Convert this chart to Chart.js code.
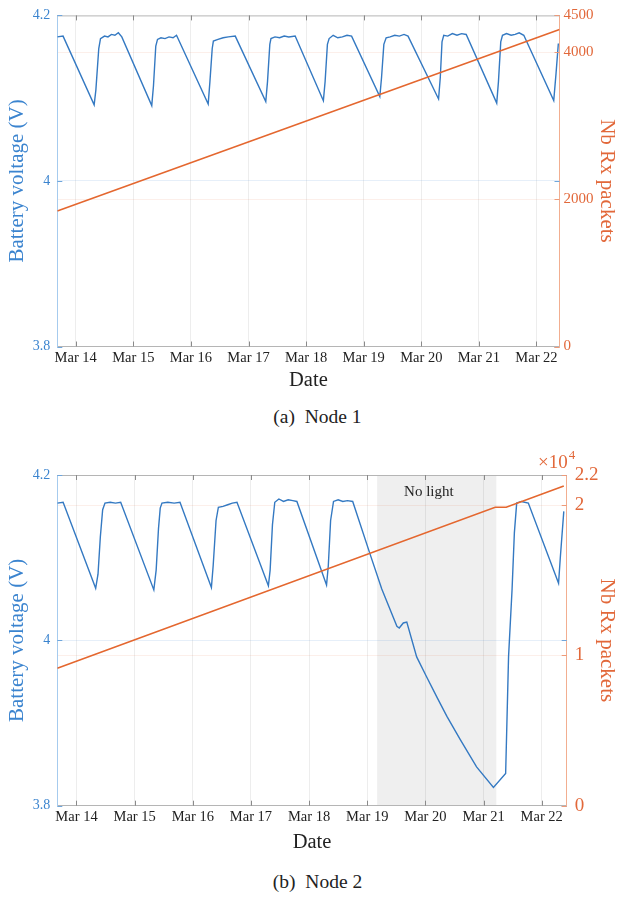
<!DOCTYPE html>
<html><head><meta charset="utf-8">
<script src="https://cdn.jsdelivr.net/npm/chart.js@4.4.0/dist/chart.umd.min.js"></script>
<style>
html,body{margin:0;padding:0;background:#fff;}
body{width:619px;height:898px;position:relative;overflow:hidden;font-family:"Liberation Serif",serif;}
.box{position:absolute;left:0;width:619px;}
.cap{position:absolute;left:8px;width:619px;text-align:center;font-size:19.5px;color:#222;line-height:22px;}
</style></head><body>
<div class="box" style="top:0;height:400px"><canvas id="c1" width="619" height="400"></canvas></div>
<div class="cap" style="top:406px">(a)&nbsp; Node 1</div>
<div class="box" style="top:440px;height:420px"><canvas id="c2" width="619" height="420"></canvas></div>
<div class="cap" style="top:871px">(b)&nbsp; Node 2</div>
<script>
// ---- data (x = days since Mar 14 00:00) ----
const dayTicks = [0,1,2,3,4,5,6,7,8];
const dayLabels = ['Mar 14','Mar 15','Mar 16','Mar 17','Mar 18','Mar 19','Mar 20','Mar 21','Mar 22'];
const voltTicks = [3.8, 4, 4.2];
const voltTickLabels = ['3.8','4','4.2'];
const rx1Ticks = [0, 2000, 4000, 4500];
const rx1TickLabels = ['0','2000','4000','4500'];
const rx2Ticks = [0, 10000, 20000, 22000];
const rx2TickLabels = ['0','1','2','2.2'];

// Node 1 battery voltage
const v1Days = [-0.32,-0.22,
  0.32,0.35,0.40,0.43,0.50,0.56,0.62,0.68,0.74,0.80,
  1.32,1.35,1.39,1.42,1.48,1.55,1.62,1.69,1.75,
  2.30,2.33,2.37,2.39,2.47,2.56,2.65,2.77,
  3.30,3.33,3.37,3.39,3.46,3.54,3.62,3.70,3.81,
  4.30,4.33,4.37,4.40,4.47,4.55,4.63,4.71,4.79,
  5.28,5.31,5.35,5.39,5.46,5.54,5.62,5.70,5.77,
  6.30,6.33,6.36,6.39,6.46,6.54,6.62,6.70,6.78,
  7.31,7.34,7.38,7.41,7.48,7.56,7.63,7.70,7.78,
  8.30,8.34,8.38];
const v1Volts = [4.174,4.175,
  4.092,4.110,4.160,4.172,4.175,4.174,4.177,4.176,4.179,4.174,
  4.091,4.115,4.163,4.171,4.173,4.172,4.174,4.173,4.176,
  4.093,4.120,4.160,4.169,4.171,4.173,4.174,4.175,
  4.096,4.120,4.165,4.172,4.174,4.173,4.175,4.174,4.175,
  4.097,4.120,4.165,4.172,4.176,4.173,4.174,4.176,4.175,
  4.102,4.125,4.165,4.173,4.174,4.176,4.175,4.177,4.175,
  4.099,4.125,4.168,4.176,4.175,4.178,4.176,4.178,4.177,
  4.094,4.120,4.168,4.176,4.178,4.176,4.177,4.179,4.176,
  4.097,4.130,4.166];
// Node 1 received packets
const rx1Days = [-0.32, 8.40];
const rx1Count = [1840, 4310];

// Node 2 battery voltage
const v2Days = [-0.33,-0.23,
  0.33,0.37,0.41,0.45,0.49,0.58,0.67,0.76,
  1.33,1.37,1.41,1.44,1.47,1.57,1.68,1.78,
  2.32,2.35,2.40,2.44,2.52,2.60,2.68,2.76,
  3.30,3.33,3.37,3.41,3.48,3.56,3.64,3.72,3.79,
  4.30,4.33,4.37,4.42,4.50,4.58,4.66,4.75,
  5.05,5.25,5.51,5.55,5.62,5.68,5.85,6.02,6.20,6.37,6.60,6.88,7.17,7.38,
  7.43,7.49,7.53,7.57,7.65,7.77,8.29,8.32,8.38];
const v2Volts = [4.166,4.167,
  4.063,4.080,4.125,4.158,4.166,4.167,4.166,4.167,
  4.061,4.085,4.135,4.160,4.166,4.167,4.166,4.167,
  4.064,4.090,4.145,4.161,4.162,4.164,4.166,4.167,
  4.066,4.085,4.140,4.167,4.171,4.168,4.170,4.169,4.168,
  4.067,4.090,4.145,4.168,4.170,4.168,4.169,4.168,
  4.104,4.062,4.017,4.015,4.021,4.022,3.980,3.956,3.931,3.908,3.880,3.847,3.822,3.839,
  3.980,4.061,4.130,4.166,4.168,4.166,4.069,4.100,4.156];
// Node 2 received packets
const rx2Days = [-0.33, 7.20, 7.39, 8.38];
const rx2Count = [9150, 19850, 19850, 21270];
// "No light" period
const noLight = [5.17, 7.22];

// ---- styling ----
const SERIF = '"Liberation Serif", "DejaVu Serif", serif';
const BLUE = '#3479c2';
const BLUE_TXT = '#3b84cf';
const ORANGE = '#e4672f';
const ORANGE_TXT = '#e2683a';

const pts = (xs, ys) => xs.map((x, i) => ({x, y: ys[i]}));

const deco = {
  id: 'deco',
  beforeDraw(chart, args, o) {
    const {ctx, chartArea: a, scales: {x}} = chart;
    if (o.shade) {
      const x0 = x.getPixelForValue(o.shade[0]), x1 = x.getPixelForValue(o.shade[1]);
      ctx.save(); ctx.fillStyle = '#efefef';
      ctx.fillRect(x0, a.top, x1 - x0, a.bottom - a.top); ctx.restore();
    }
  },
  afterDraw(chart, args, o) {
    const {ctx, chartArea: a, scales: {x, y, y1}} = chart;
    ctx.save();
    ctx.lineWidth = 1;
    ctx.strokeStyle = '#b5b5b5';
    ctx.beginPath(); ctx.moveTo(a.left, a.top + 0.5); ctx.lineTo(a.right, a.top + 0.5); ctx.stroke();
    ctx.strokeStyle = '#8a8a8a';
    ctx.beginPath();
    dayTicks.forEach(v => {
      const px = Math.round(x.getPixelForValue(v)) + 0.5;
      ctx.moveTo(px, a.bottom); ctx.lineTo(px, a.bottom - 5);
      ctx.moveTo(px, a.top); ctx.lineTo(px, a.top + 5);
    });
    ctx.stroke();
    ctx.strokeStyle = '#6fa6dc';
    ctx.beginPath();
    voltTicks.forEach(v => {
      const py = Math.round(y.getPixelForValue(v)) + 0.5;
      ctx.moveTo(a.left, py); ctx.lineTo(a.left + 5, py);
      ctx.moveTo(a.right, py); ctx.lineTo(a.right - 5, py);
    });
    ctx.stroke();
    ctx.strokeStyle = '#ee9a78';
    ctx.beginPath();
    o.rxTicks.forEach(v => {
      const py = Math.round(y1.getPixelForValue(v)) + 0.5;
      ctx.moveTo(a.right, py); ctx.lineTo(a.right - 5, py);
    });
    ctx.stroke();
    if (o.shade) {
      ctx.fillStyle = '#222';
      ctx.font = '15px ' + SERIF;
      ctx.textAlign = 'center'; ctx.textBaseline = 'middle';
      ctx.fillText('No light', x.getPixelForValue(o.labelX), a.top + 17);
    }
    if (o.exp) {
      ctx.fillStyle = ORANGE_TXT;
      ctx.textBaseline = 'alphabetic';
      ctx.textAlign = 'right';
      ctx.font = '19px ' + SERIF;
      ctx.fillText('\u00d710', a.right + 1, a.top - 7);
      ctx.textAlign = 'left';
      ctx.font = '13px ' + SERIF;
      ctx.fillText('4', a.right + 2, a.top - 16);
    }
    ctx.restore();
  }
};

function makeChart(id, cfg) {
  return new Chart(document.getElementById(id), {
    type: 'line',
    data: {
      datasets: [
        {data: pts(cfg.vDays, cfg.vVolts), yAxisID: 'y', borderColor: BLUE, borderWidth: 1.4, pointRadius: 0, tension: 0, order: 2},
        {data: pts(cfg.rxDays, cfg.rxCount), yAxisID: 'y1', borderColor: ORANGE, borderWidth: 1.6, pointRadius: 0, tension: 0, order: 1}
      ]
    },
    options: {
      responsive: false, animation: false, devicePixelRatio: 1,
      layout: {padding: {top: cfg.padTop, left: 0, right: 0, bottom: 0}},
      plugins: {legend: {display: false}, tooltip: {enabled: false},
        deco: {shade: cfg.shade, labelX: cfg.labelX, exp: cfg.exp, rxTicks: cfg.rxTicks}},
      scales: {
        x: {
          type: 'linear', min: cfg.xMin, max: cfg.xMax,
          afterBuildTicks: s => { s.ticks = dayTicks.map(v => ({value: v})); },
          afterFit: s => { s.height = cfg.xHeight; },
          ticks: {callback: (v, i) => dayLabels[i], color: '#222', font: {family: SERIF, size: 14.5}, padding: 3, maxRotation: 0, autoSkip: false},
          grid: {color: 'rgba(0,0,0,0.07)', drawTicks: false},
          border: {color: '#b5b5b5', width: 1},
          title: {display: true, text: 'Date', color: '#222', font: {family: SERIF, size: 20.5}, padding: {top: 0, bottom: cfg.datePad}}
        },
        y: {
          position: 'left', min: 3.8, max: 4.2,
          afterBuildTicks: s => { s.ticks = voltTicks.map(v => ({value: v})); },
          afterFit: s => { s.width = 57.3; },
          ticks: {callback: (v, i) => voltTickLabels[i], color: BLUE_TXT, font: {family: SERIF, size: 14}, padding: 7},
          grid: {color: c => (c.tick && c.tick.value === 4) ? 'rgba(60,130,205,0.13)' : 'rgba(0,0,0,0)', drawTicks: false},
          border: {color: '#a6cbee', width: 1},
          title: {display: true, text: 'Battery voltage (V)', color: BLUE_TXT, font: {family: SERIF, size: 21}, padding: {top: 5, bottom: 0}}
        },
        y1: {
          position: 'right', min: 0, max: cfg.rxMax,
          afterBuildTicks: s => { s.ticks = cfg.rxTicks.map(v => ({value: v})); },
          afterFit: s => { s.width = cfg.rightW; },
          ticks: {callback: (v, i) => cfg.rxLabels[i], color: ORANGE_TXT, font: {family: SERIF, size: cfg.rxFont}, padding: cfg.rxPad},
          grid: {color: c => (c.tick && c.tick.value > 0 && c.tick.value < cfg.rxMax) ? 'rgba(230,100,50,0.10)' : 'rgba(0,0,0,0)', drawTicks: false},
          border: {color: '#f2ae90', width: 1},
          title: {display: true, text: 'Nb Rx packets', color: ORANGE_TXT, font: {family: SERIF, size: 21}, padding: {top: 0, bottom: 0}}
        }
      }
    },
    plugins: [deco]
  });
}

makeChart('c1', {
  vDays: v1Days, vVolts: v1Volts, rxDays: rx1Days, rxCount: rx1Count,
  xMin: -0.32, xMax: 8.40, padTop: 10, xHeight: 53.5, datePad: 7, rightW: 59.5,
  rxMax: 4500, rxTicks: rx1Ticks, rxLabels: rx1TickLabels, rxFont: 15, rxPad: 4,
  shade: null, exp: false
});
makeChart('c2', {
  vDays: v2Days, vVolts: v2Volts, rxDays: rx2Days, rxCount: rx2Count,
  xMin: -0.33, xMax: 8.43, padTop: 35, xHeight: 54.3, datePad: 5, rightW: 52.3,
  rxMax: 22000, rxTicks: rx2Ticks, rxLabels: rx2TickLabels, rxFont: 19, rxPad: 8,
  shade: noLight, labelX: 6.06, exp: true
});
</script>
</body></html>
